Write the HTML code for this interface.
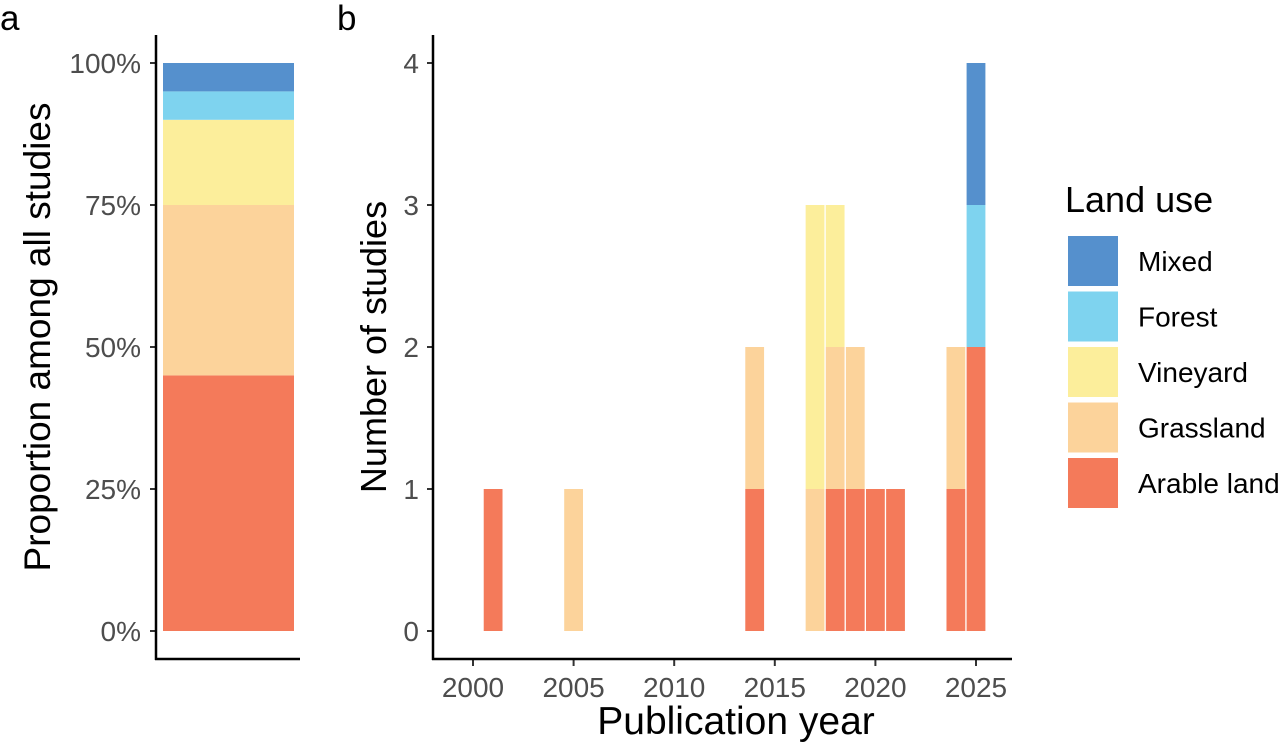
<!DOCTYPE html>
<html><head><meta charset="utf-8"><style>
body{margin:0;background:#fff;}
svg{display:block;font-family:"Liberation Sans",sans-serif;}
</style></head><body>
<svg id="c" width="1280" height="746" viewBox="0 0 1280 746"></svg>
<script>
// Data
const landUses = ["Arable land","Grassland","Vineyard","Forest","Mixed"];
const colors = ["#F47A5A","#FCD39B","#FCEE9B","#7ED3EF","#5590CD"];
const propValues = [0.45,0.30,0.15,0.05,0.05];
const propTicks = ["0%","25%","50%","75%","100%"];
const years = [2001,2005,2014,2017,2018,2019,2020,2021,2024,2025];
const arable    = [1,0,1,0,1,1,1,1,1,2];
const grassland = [0,1,1,1,1,1,0,0,1,0];
const vineyard  = [0,0,0,2,1,0,0,0,0,0];
const forest    = [0,0,0,0,0,0,0,0,0,1];
const mixed     = [0,0,0,0,0,0,0,0,0,1];
const yearTicks = [2000,2005,2010,2015,2020,2025];
const countTicks = [0,1,2,3,4];

const NS="http://www.w3.org/2000/svg";
const svg=document.getElementById('c');
function mk(tag,attrs,parent,text){const e=document.createElementNS(NS,tag);for(const k in attrs)e.setAttribute(k,attrs[k]);if(text!==undefined)e.textContent=text;(parent||svg).appendChild(e);return e;}

// Panel a
const ya=v=>631-v*568;
let cum=0;
propValues.forEach((v,i)=>{
  const r=mk('rect',{x:163,y:ya(cum+v),width:131,height:ya(cum)-ya(cum+v),fill:colors[i]});
  
  
  cum+=v;
});
propTicks.forEach((t,i)=>{
  const y=ya(i*0.25);
  mk('line',{x1:150,x2:156,y1:y,y2:y,stroke:'#333','stroke-width':2});
  const tx=mk('text',{x:141,y:y+10,'text-anchor':'end','font-size':28,fill:'#4d4d4d'},svg,t);
  
  
});
mk('line',{x1:156,x2:156,y1:35,y2:660,stroke:'#000','stroke-width':2.5});
mk('line',{x1:155,x2:300,y1:659,y2:659,stroke:'#000','stroke-width':2.5});
let t=mk('text',{x:0,y:0,transform:'translate(50,337) rotate(-90)','text-anchor':'middle','font-size':37,fill:'#000'},svg,'Proportion among all studies');

t=mk('text',{x:0,y:30,'font-size':35,fill:'#000'},svg,'a');


// Panel b
const xb=yr=>473+(yr-2000)*20.12;
const yb=v=>631-v*142;
const series=[arable,grassland,vineyard,forest,mixed];
years.forEach((yr,j)=>{
  let base=0;
  series.forEach((s,i)=>{
    if(s[j]>0){
      const r=mk('rect',{x:xb(yr)-9.4,y:yb(base+s[j]),width:18.8,height:yb(base)-yb(base+s[j]),fill:colors[i]});
      
      
      base+=s[j];
    }
  });
});
countTicks.forEach(v=>{
  const y=yb(v);
  mk('line',{x1:427,x2:433,y1:y,y2:y,stroke:'#333','stroke-width':2});
  const tx=mk('text',{x:419,y:y+10,'text-anchor':'end','font-size':28,fill:'#4d4d4d'},svg,String(v));
  
  
});
yearTicks.forEach(yr=>{
  const x=xb(yr);
  mk('line',{x1:x,x2:x,y1:659,y2:666,stroke:'#333','stroke-width':2});
  const tx=mk('text',{x:x,y:697,'text-anchor':'middle','font-size':28,fill:'#4d4d4d'},svg,String(yr));
  
  
});
mk('line',{x1:433,x2:433,y1:35,y2:660,stroke:'#000','stroke-width':2.5});
mk('line',{x1:432,x2:1012,y1:659,y2:659,stroke:'#000','stroke-width':2.5});
t=mk('text',{x:0,y:0,transform:'translate(386,347) rotate(-90)','text-anchor':'middle','font-size':36,fill:'#000'},svg,'Number of studies');

t=mk('text',{x:736,y:734,'text-anchor':'middle','font-size':39,fill:'#000'},svg,'Publication year');

t=mk('text',{x:337,y:30,'font-size':35,fill:'#000'},svg,'b');


// Legend
t=mk('text',{x:1065,y:212,'font-size':36,fill:'#000'},svg,'Land use');

for(let k=0;k<5;k++){
  const i=4-k;
  const y=236+k*55.5;
  const r=mk('rect',{x:1068,y:y,width:50,height:50,fill:colors[i]});
  
  
  const tx=mk('text',{x:1138,y:y+35,'font-size':28,fill:'#000'},svg,landUses[i]);
  
  
}
</script>
</body></html>
